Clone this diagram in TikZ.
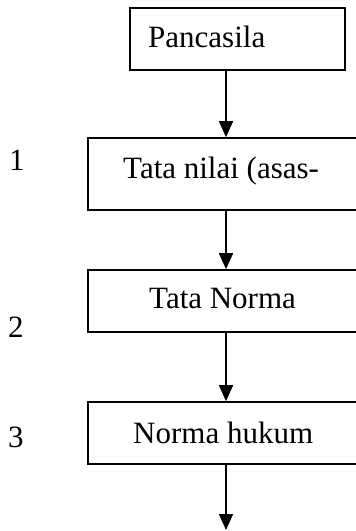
\documentclass[tikz,border=0pt]{standalone}
\usepackage{fontspec}
\setmainfont{Liberation Serif}
\usetikzlibrary{arrows.meta}
\begin{document}
\begin{tikzpicture}[x=1pt,y=-1pt,
  box/.style={draw,line width=1.6pt,rectangle,inner sep=0pt},
  txt/.style={anchor=base west,inner sep=0pt,font=\fontsize{31}{36}\selectfont},
  arr/.style={line width=1.6pt,-{Triangle[length=16pt,width=14pt]}}]
  \useasboundingbox (0,0) rectangle (356,531);
  \clip (0,0) rectangle (356,531);
  % flow boxes
  \node[box,minimum width=215pt,minimum height=62pt] (p1) at (237.5,39) {};
  \node[box,minimum width=290pt,minimum height=72pt] (p2) at (233,174) {};
  \node[box,minimum width=290pt,minimum height=62pt] (p3) at (233,301) {};
  \node[box,minimum width=290pt,minimum height=62pt] (p4) at (233,433) {};
  % box texts
  \node[txt] (t1) at (148,47) {Pancasila};
  \node[txt] (t2) at (123,178) {Tata nilai (asas-};
  \node[txt] (t3) at (149,308) {Tata Norma};
  \node[txt] (t4) at (133,443) {Norma hukum};
  % level numbers
  \node[txt] (n1) at (9,170) {1};
  \node[txt] (n2) at (8,337) {2};
  \node[txt] (n3) at (8,447) {3};
  % connectors
  \coordinate (ax) at (226,0);
  \coordinate (end) at (226,530);
  \draw[arr] (p1.south -| ax) -- (p2.north -| ax);
  \draw[arr] (p2.south -| ax) -- (p3.north -| ax);
  \draw[arr] (p3.south -| ax) -- (p4.north -| ax);
  \draw[arr] (p4.south -| ax) -- (end);
\end{tikzpicture}
\end{document}
